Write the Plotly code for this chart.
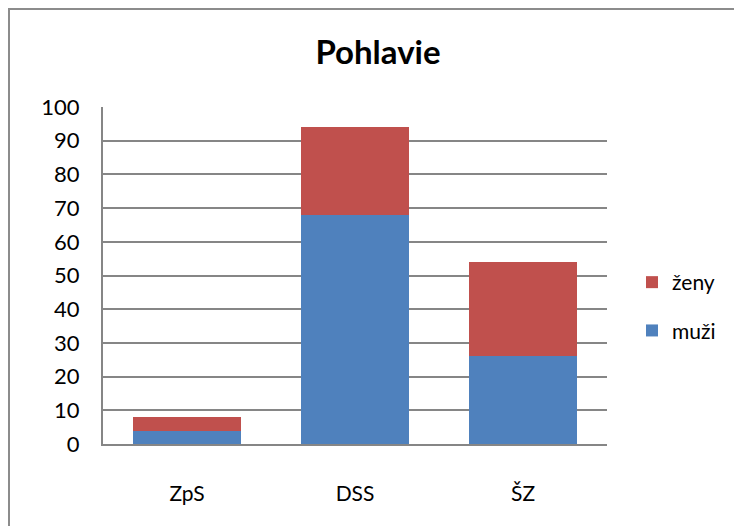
import plotly.graph_objects as go

categories = ["ZpS", "DSS", "ŠZ"]
muzi = [4, 68, 26]
zeny = [4, 26, 28]
y_ticks = [0, 10, 20, 30, 40, 50, 60, 70, 80, 90, 100]

W, H = 742, 526
OFF = 8  # default page body margin
L, R, T, B = 103 - OFF, 607 - OFF, 107 - OFF, 444 - OFF

FONT = "Lato"

fig = go.Figure()
fig.add_trace(go.Bar(x=categories, y=muzi, name="muži", marker=dict(color="#4F81BD", line=dict(width=0)),
                     legendgroup="m", legendrank=2))
fig.add_trace(go.Bar(x=categories, y=zeny, name="ženy", marker=dict(color="#C0504D", line=dict(width=0)),
                     legendgroup="z", legendrank=1))

def px_x(p):
    return (p - OFF - L) / (R - L)

def px_y(p):
    return (B - (p - OFF)) / (B - T)

fig.update_layout(
    width=W, height=H,
    margin=dict(l=L, r=W - R, t=T, b=H - B, pad=0),
    barmode="stack",
    bargap=0.357,
    plot_bgcolor="white",
    paper_bgcolor="white",
    font=dict(family=FONT, color="black"),
    title=dict(text="<b>Pohlavie</b>", x=px_x(378), xanchor="center", xref="paper",
               y=1 - (52 - OFF) / H, yanchor="middle", font=dict(size=33, family=FONT, color="black")),
    xaxis=dict(showgrid=False, showline=True, linecolor="#868686", linewidth=2,
               ticks="", tickfont=dict(size=21, family=FONT), ticklabelstandoff=30),
    yaxis=dict(range=[0, 100], tickvals=y_ticks, showgrid=True, gridcolor="#868686", gridwidth=1.5,
               showline=True, linecolor="#868686", linewidth=2, zeroline=False,
               ticks="", tickfont=dict(size=22, family=FONT), ticklabelstandoff=17),
    legend=dict(x=px_x(632), xanchor="left", y=px_y(262), yanchor="top",
                traceorder="grouped", tracegroupgap=18,
                font=dict(size=21, family=FONT), bgcolor="rgba(0,0,0,0)"),
    shapes=[dict(type="rect", xref="paper", yref="paper",
                 x0=px_x(9), x1=px_x(760), y0=px_y(540), y1=px_y(9),
                 line=dict(color="#8C8C8C", width=2), fillcolor="rgba(0,0,0,0)", layer="below")],
)

fig.write_html("out.html")
